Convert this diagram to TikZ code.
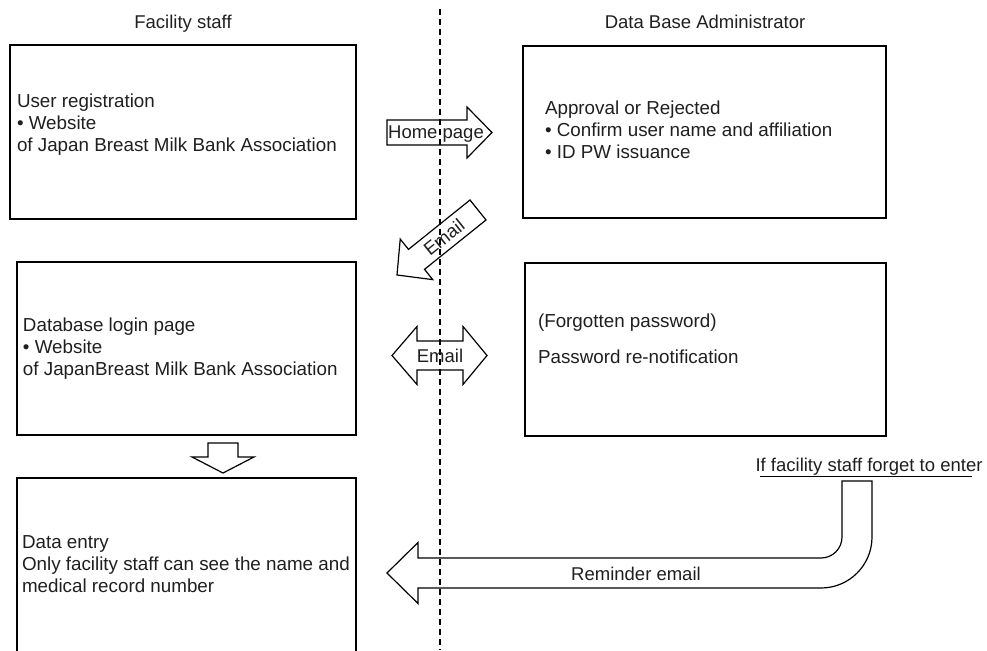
\documentclass[tikz,border=0pt]{standalone}
\usepackage{fontspec}
\setmainfont{Liberation Sans}
\usetikzlibrary{calc}

% block arrow from tail #2 to tip #3: shaft half width #4, head half width #5, head length #6
\newcommand\blockarr[6][]{%
  \coordinate (ba-base) at ($(#3)!#6!(#2)$);
  \draw[blk,#1] ($(#2)!#4!90:(#3)$) -- ($(ba-base)!#4!90:(#3)$) -- ($(ba-base)!#5!90:(#3)$)
    -- (#3) -- ($(ba-base)!#5!-90:(#3)$) -- ($(ba-base)!#4!-90:(#3)$) -- ($(#2)!#4!-90:(#3)$) -- cycle;
}

\tikzset{
  lbl/.style={inner sep=0pt, outer sep=0pt, font=\fontsize{18.5}{22}\selectfont, text=black!88},
  boxtxt/.style={lbl, font=\fontsize{18.8}{22}\selectfont, align=left, anchor=base west},
  box/.style={draw, line width=1.3pt, inner sep=0pt, outer sep=0pt, anchor=north west},
  blk/.style={draw, line width=1.2pt, line join=miter},
  divider/.style={dash pattern=on 6pt off 4pt, line width=1.3pt},
}

\begin{document}
\begin{tikzpicture}[x=1pt,y=1pt]
\useasboundingbox (0,0) rectangle (987,-650);

% lane divider
\coordinate (divT) at (440,-9);
\coordinate (divB) at (440,-650);
\draw[divider] (divT) -- (divB);

% lane headings
\node[lbl, anchor=base] (hdrL) at (183,-29) {Facility staff};
\node[lbl, anchor=base] (hdrR) at (705,-29) {Data Base Administrator};

% boxes
\node[box, minimum width=346pt, minimum height=174pt] (reg) at (10,-45) {};
\node[box, minimum width=363pt, minimum height=172pt] (appr) at (523,-46) {};
\node[box, minimum width=339pt, minimum height=173pt] (login) at (17,-262) {};
\node[box, minimum width=361pt, minimum height=173pt] (pw) at (525,-263) {};
\node[inner sep=0pt, outer sep=0pt, anchor=north west, minimum width=339pt, minimum height=173pt] (entry) at (17,-478) {};
\draw[line width=1.3pt] (entry.south west) -- (entry.north west) -- (entry.north east) -- (entry.south east);

% box texts (anchored at the baseline of their last line)
\node[boxtxt] (regtxt) at (17,-151)
  {User registration\\• Website\\of Japan Breast Milk Bank Association};
\node[boxtxt] (apprtxt) at (545,-158)
  {Approval or Rejected\\• Confirm user name and affiliation\\• ID PW issuance};
\node[boxtxt] (logintxt) at (23,-375)
  {Database login page\\• Website\\of JapanBreast Milk Bank Association};
\node[boxtxt] (pwtxt1) at (538,-327) {(Forgotten password)};
\node[boxtxt] (pwtxt2) at (538,-363) {Password re-notification};
\node[boxtxt] (entrytxt) at (22,-592)
  {Data entry\\Only facility staff can see the name and\\medical record number};

% Home page arrow
\coordinate (hpT) at (387,-132.5);
\coordinate (hpH) at (492,-132.5);
\blockarr{hpT}{hpH}{12.5pt}{25.5pt}{25pt}
\node[lbl, anchor=base] (hplbl) at (436,-139) {Home page};

% Email arrow back to the facility side
\coordinate (emT) at (478,-210);
\coordinate (emH) at (397,-275);
\blockarr{emT}{emH}{12.8pt}{26pt}{25pt}
\node[lbl, anchor=center, rotate=38.7] (emlbl) at ($(emT)!0.42!(emH)$) {Email};

% two-way Email arrow
\coordinate (e2L) at (392,-355.5);
\coordinate (e2R) at (487,-355.5);
\draw[blk] (e2L) -- ($(e2L)+(25,29)$) -- ($(e2L)+(25,14.5)$) -- ($(e2R)+(-24,14.5)$) -- ($(e2R)+(-24,29)$)
  -- (e2R) -- ($(e2R)+(-24,-29)$) -- ($(e2R)+(-24,-14.5)$) -- ($(e2L)+(25,-14.5)$) -- ($(e2L)+(25,-29)$) -- cycle;
\node[lbl, anchor=base] (e2lbl) at (440,-362.7) {Email};

% down arrow from login page to data entry
\coordinate (dnT) at (223,-443);
\coordinate (dnH) at (223,-473);
\blockarr{dnT}{dnH}{15pt}{31pt}{16pt}

% reminder condition
\node[lbl, anchor=base] (cond) at (869,-471) {If facility staff forget to enter};
\coordinate (condL) at (760,-476);
\coordinate (condR) at (972,-476);
\draw[line width=1pt] (condL) -- (condR);

% bent reminder arrow
\coordinate (remH) at (387,-573);
\draw[blk] (remH) -- ($(remH)+(31,30.5)$) -- ($(remH)+(31,15)$) -- (821,-558)
  arc[start angle=-90, end angle=0, radius=21pt] -- (842,-481) -- (872,-481) -- (872,-537)
  arc[start angle=0, end angle=-90, radius=51pt] -- ($(remH)+(31,-15)$) -- ($(remH)+(31,-30.5)$) -- cycle;
\node[lbl, anchor=base] (remlbl) at (636,-580) {Reminder email};
\end{tikzpicture}
\end{document}
